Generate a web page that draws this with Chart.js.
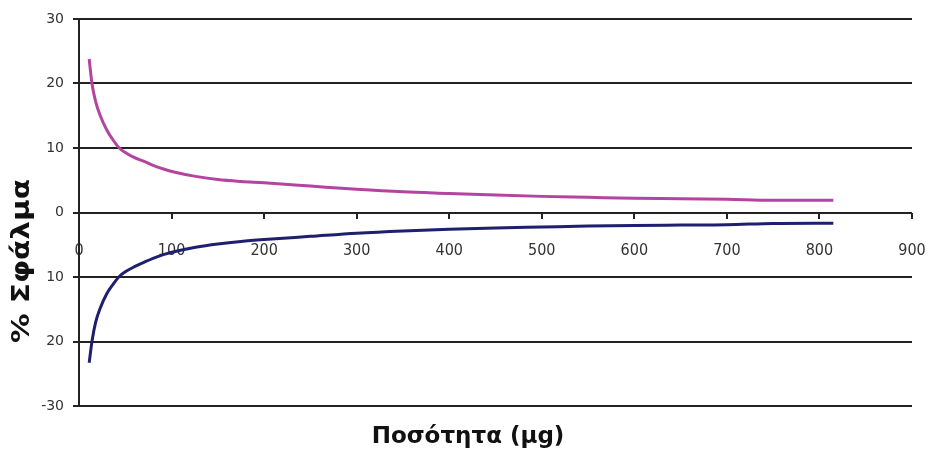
<!DOCTYPE html>
<html>
<head>
<meta charset="utf-8">
<script src="https://cdn.jsdelivr.net/npm/chart.js@4.4.1/dist/chart.umd.min.js"></script>
<style>
html,body{margin:0;padding:0;background:#fff;}
#wrap{width:930px;height:452px;position:relative;}
</style>
</head>
<body>
<div id="wrap"><canvas id="c" width="930" height="452"></canvas></div>
<script>
// Quantity (μg) sample points
const upperX = [11, 14, 18, 23, 30, 37, 43.5, 50, 60, 69, 80, 92, 105, 126, 150, 175, 200, 250, 300, 350, 400, 450, 500, 550, 600, 650, 700, 750, 815];
const upperY = [23.8, 20, 17.2, 15, 12.8, 11.2, 10, 9.3, 8.5, 8.0, 7.3, 6.7, 6.2, 5.6, 5.1, 4.8, 4.6, 4.1, 3.6, 3.2, 2.95, 2.7, 2.5, 2.35, 2.2, 2.15, 2.05, 1.9, 1.9];
const lowerX = [11, 14, 18, 23, 30, 37, 43, 50, 60, 69, 80, 92, 105, 126, 150, 175, 200, 250, 300, 350, 400, 450, 500, 550, 600, 650, 700, 750, 815];
const lowerY = [-23.3, -20, -17, -14.8, -12.6, -11.1, -10, -9.2, -8.4, -7.8, -7.1, -6.5, -6.0, -5.4, -4.9, -4.5, -4.2, -3.7, -3.2, -2.85, -2.6, -2.4, -2.25, -2.1, -2.0, -1.95, -1.9, -1.7, -1.65];
const yTickValues = [30, 20, 10, 0, -10, -20, -30];
const yTickLabels = ['30', '20', '10', '0', '10', '20', '-30'];
const xTickValues = [0, 100, 200, 300, 400, 500, 600, 700, 800, 900];
const xTitle = 'Ποσότητα (μg)';
const yTitle = '% Σφάλμα';

const toPts = (xs, ys) => xs.map((x, i) => ({x: x, y: ys[i]}));

const titlesPlugin = {
  id: 'titles',
  afterDraw(chart) {
    const ctx = chart.ctx;
    ctx.save();
    ctx.fillStyle = '#111';
    ctx.font = 'bold 23px "DejaVu Sans", sans-serif';
    ctx.textAlign = 'center';
    ctx.textBaseline = 'middle';
    ctx.fillText(xTitle, 468, 437);
    ctx.translate(23, 261);
    ctx.rotate(-Math.PI / 2);
    ctx.scale(1.23, 1);
    ctx.font = 'bold 24px "DejaVu Sans", sans-serif';
    ctx.fillText(yTitle, 0, 0);
    ctx.restore();
  }
};

new Chart(document.getElementById('c'), {
  type: 'line',
  data: {
    datasets: [
      {data: toPts(upperX, upperY), borderColor: '#B4449F', borderWidth: 3, pointRadius: 0, cubicInterpolationMode: 'monotone', fill: false},
      {data: toPts(lowerX, lowerY), borderColor: '#1F1F6F', borderWidth: 3, pointRadius: 0, cubicInterpolationMode: 'monotone', fill: false}
    ]
  },
  options: {
    responsive: false,
    animation: false,
    layout: {padding: {top: 19, right: 18, bottom: 46, left: 0}},
    plugins: {legend: {display: false}, tooltip: {enabled: false}},
    scales: {
      x: {
        type: 'linear',
        position: {y: 0},
        min: 0, max: 900,
        afterBuildTicks: (s) => { s.ticks = xTickValues.map(v => ({value: v})); },
        afterFit: (s) => { s.paddingLeft = 0; s.paddingRight = 0; },
        ticks: {color: '#333', font: {family: '"DejaVu Sans Condensed", sans-serif', size: 16}, padding: 23, maxRotation: 0, autoSkip: false},
        grid: {drawOnChartArea: false, drawTicks: true, tickLength: 6, color: '#222', lineWidth: 2},
        border: {display: false}
      },
      y: {
        min: -30, max: 30,
        afterBuildTicks: (s) => { s.ticks = yTickValues.map(v => ({value: v})); },
        afterFit: (s) => { s.width = 79; s.paddingTop = 0; s.paddingBottom = 0; },
        ticks: {
          color: '#333',
          font: {family: '"DejaVu Sans", sans-serif', size: 14},
          padding: 9,
          callback: (v) => { const i = yTickValues.indexOf(v); return i >= 0 ? yTickLabels[i] : ''; }
        },
        grid: {color: '#222', lineWidth: 2, drawTicks: true, tickLength: 6},
        border: {display: true, color: '#222', width: 2}
      }
    }
  },
  plugins: [titlesPlugin]
});
</script>
</body>
</html>
